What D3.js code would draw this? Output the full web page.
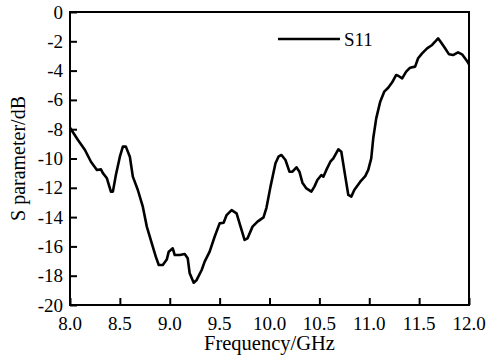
<!DOCTYPE html>
<html>
<head>
<meta charset="utf-8">
<script src="https://cdn.jsdelivr.net/npm/d3@7"></script>
<style>
  body { margin: 0; background: #fff; }
</style>
</head>
<body>
<svg id="chart" width="492" height="358"></svg>
<script>
// S11
const freq = [8.00, 8.08, 8.15, 8.21, 8.27, 8.31, 8.33, 8.37, 8.41, 8.43, 8.46, 8.50, 8.53, 8.56, 8.60, 8.63,
    8.68, 8.73, 8.77, 8.82, 8.86, 8.89, 8.93, 8.97, 8.99, 9.03, 9.05, 9.10, 9.15, 9.18, 9.20, 9.24, 9.27,
    9.32, 9.35, 9.40, 9.45, 9.50, 9.54, 9.57, 9.62, 9.67, 9.70, 9.75, 9.78, 9.83, 9.88, 9.94, 9.97,
    10.01, 10.06, 10.09, 10.12, 10.16, 10.20, 10.23, 10.27, 10.30, 10.33, 10.37, 10.42, 10.45, 10.48,
    10.52, 10.54, 10.57, 10.61, 10.64, 10.69, 10.72, 10.76, 10.79, 10.82, 10.85, 10.91, 10.96, 10.99,
    11.02, 11.04, 11.07, 11.11, 11.15, 11.19, 11.23, 11.27, 11.29, 11.33, 11.37, 11.41, 11.46, 11.49,
    11.53, 11.58, 11.63, 11.66, 11.69, 11.71, 11.75, 11.80, 11.84, 11.89, 11.93, 11.98, 12.00];
const s11 = [-7.9, -8.74, -9.42, -10.22, -10.78, -10.74, -11.0, -11.35, -12.26, -12.26, -11.13, -9.88, -9.19, -9.19, -9.88, -11.24,
    -12.15, -13.29, -14.65, -15.79, -16.7, -17.27, -17.27, -16.9, -16.36, -16.13, -16.59, -16.59, -16.52, -16.81, -17.84, -18.48, -18.29,
    -17.61, -17.04, -16.36, -15.34, -14.43, -14.38, -13.86, -13.52, -13.74, -14.43, -15.56, -15.45, -14.65, -14.31, -14.02, -13.35,
    -11.92, -10.33, -9.88, -9.76, -10.1, -10.9, -10.9, -10.6, -10.9, -11.65, -12.04, -12.26, -11.92, -11.47,
    -11.13, -11.24, -10.78, -10.22, -9.99, -9.37, -9.54, -11.24, -12.49, -12.6, -12.15, -11.58, -11.2, -10.78,
    -9.99, -8.62, -7.26, -6.12, -5.44, -5.17, -4.8, -4.3, -4.35, -4.53, -4.07, -3.8, -3.73, -3.16,
    -2.82, -2.48, -2.25, -2.03, -1.8, -1.98, -2.37, -2.89, -2.94, -2.75, -2.89, -3.34, -3.57];
const xTicks = [8.0, 8.5, 9.0, 9.5, 10.0, 10.5, 11.0, 11.5, 12.0];
const yTicks = [0, -2, -4, -6, -8, -10, -12, -14, -16, -18, -20];
const seriesName = "S11";

const serif = "'Liberation Serif', 'Times New Roman', Times, serif";
const svg = d3.select("#chart");
const plotLeft = 70, plotRight = 469, plotTop = 12, plotBottom = 305;

const x = d3.scaleLinear().domain([8, 12]).range([plotLeft, plotRight]);
const y = d3.scaleLinear().domain([-20, 0]).range([plotBottom, plotTop]);

// frame
svg.append("rect")
    .attr("x", plotLeft).attr("y", plotTop)
    .attr("width", plotRight - plotLeft).attr("height", plotBottom - plotTop)
    .attr("fill", "none").attr("stroke", "#000").attr("stroke-width", 2);

// x axis, ticks pointing inward
const xAxis = svg.append("g")
    .attr("transform", "translate(0," + plotBottom + ")")
    .call(d3.axisTop(x).tickValues(xTicks).tickSize(7).tickFormat(""));
xAxis.select(".domain").remove();
xAxis.selectAll("line").attr("stroke-width", 2);
svg.selectAll(".xlab").data(xTicks).enter().append("text")
    .attr("x", d => x(d)).attr("y", plotBottom + 25)
    .attr("text-anchor", "middle")
    .attr("font-family", serif)
    .attr("font-size", 19)
    .text(d => d3.format(".1f")(d));

// y axis, ticks pointing inward
const yAxis = svg.append("g")
    .attr("transform", "translate(" + plotLeft + ",0)")
    .call(d3.axisRight(y).tickValues(yTicks).tickSize(7).tickFormat(""));
yAxis.select(".domain").remove();
yAxis.selectAll("line").attr("stroke-width", 2);
svg.selectAll(".ylab").data(yTicks).enter().append("text")
    .attr("x", plotLeft - 7).attr("y", d => y(d) + 6.5)
    .attr("text-anchor", "end")
    .attr("font-family", serif)
    .attr("font-size", 19)
    .text(d => d);

// axis titles
svg.append("text")
    .attr("x", (plotLeft + plotRight) / 2).attr("y", 350)
    .attr("text-anchor", "middle")
    .attr("font-family", serif)
    .attr("font-size", 20.5)
    .text("Frequency/GHz");
svg.append("text")
    .attr("transform", "translate(25," + (plotTop + plotBottom) / 2 + ") rotate(-90)")
    .attr("text-anchor", "middle")
    .attr("font-family", serif)
    .attr("font-size", 20)
    .text("S parameter/dB");

// the curve
const line = d3.line()
    .x((d, i) => x(freq[i]))
    .y(d => y(d));
svg.append("path")
    .datum(s11)
    .attr("fill", "none")
    .attr("stroke", "#000")
    .attr("stroke-width", 2.6)
    .attr("stroke-linejoin", "round")
    .attr("d", line);

// legend
svg.append("line")
    .attr("x1", 278).attr("x2", 340).attr("y1", 39).attr("y2", 39)
    .attr("stroke", "#000").attr("stroke-width", 2.6);
svg.append("text")
    .attr("x", 344).attr("y", 46)
    .attr("font-family", serif)
    .attr("font-size", 19)
    .text(seriesName);
</script>
</body>
</html>
